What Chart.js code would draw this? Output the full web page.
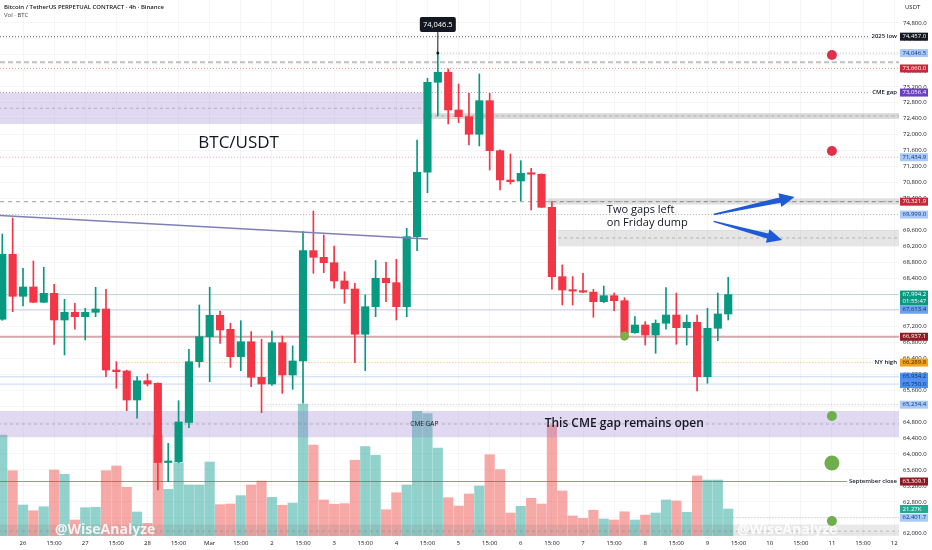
<!DOCTYPE html>
<html>
<head>
<meta charset="utf-8">
<script src="https://cdn.jsdelivr.net/npm/chart.js@4.4.1/dist/chart.umd.min.js"></script>
<style>
  html, body { margin: 0; padding: 0; background: #fff; }
  #chart { display: block; }
</style>
</head>
<body>
<canvas id="chart" width="932" height="550"></canvas>
<script>
// 4h candles, index 0 = Feb 25 19:00, index 2 = Feb 26 03:00 (first daily label)
const opens = [67375,69004,67951,68184,67801,68026,67357,67550,67440,67550,
  67633,66104,66079,65352,65836,65771,63786,63806,64790,66312,
  66939,67475,67124,66437,66813,65921,65753,66788,65979,66330,
  69094,68928,68793,68335,68134,66999,67690,68402,68292,67690,
  69445,71059,73314,73565,72620,72452,72011,72853,71600,70866,
  70840,71033,71010,70181,68442,68109,68085,68055,67816,67966,
  67841,67040,67232,66981,67275,67482,67164,67300,65936,67149,
  67508];
const highs = [69512,69913,68653,68836,68678,68252,67876,67776,67650,68177,
  68127,66312,66100,65936,66004,65780,64267,65335,66623,67733,
  68177,67583,67275,67340,67064,66874,67082,66956,66706,69570,
  70089,69487,69212,68568,68277,67984,68850,68803,68878,69655,
  71868,73414,74046.5,73647,73271,73038,73522,73038,71620,71517,
  71349,71159,71020,70322,68735,68442,68527,68127,68209,68030,
  67916,67440,67315,67357,68167,68030,67482,67482,67650,68030,
  68427];
const lows = [67350,67565,67708,67790,67790,66748,66480,67124,66856,67440,
  65936,65646,65084,64894,65703,63097,63305,63780,64658,66172,
  65811,66773,66172,66087,65686,65034,65720,65520,65620,65270,
  68527,68543,68152,67776,66287,66087,67440,67816,67357,67440,
  69094,70547,72469,72269,72302,71743,71718,71116,70615,70765,
  70347,70114,70170,68127,67733,67733,68040,67425,67790,67590,
  66856,67020,66731,66523,67124,66748,66731,65578,65771,66838,
  67357];
const closes = [69004,67951,68184,67801,68026,67357,67550,67440,67550,67633,
  66104,66062,65352,65836,65753,63786,63810,64801,66312,66939,
  67475,67107,66437,66813,65921,65753,66788,65979,66330,69094,
  68928,68793,68335,68134,66999,67690,68402,68292,67690,69445,
  71059,73314,73565,72620,72452,72011,72853,71600,70866,70823,
  71033,71010,70181,68442,68109,68080,68055,67816,67966,67841,
  67006,67232,66981,67275,67482,67164,67300,65936,67149,67508,
  67994.2];
// volume, thousands of BTC
const volumes = [79.6,51.5,24.4,19.9,23.1,52.0,48.6,12.6,22.3,22.6,
  51.5,55.2,38.4,18.9,10.0,79.6,36.8,57.8,40.2,40.2,
  58.3,24.7,25.2,31.8,40.2,43.3,30.5,24.2,26.0,104.0,
  71.7,28.4,25.0,25.5,59.7,70.4,63.6,20.7,34.1,40.2,
  98.3,96.4,69.3,30.2,23.6,33.1,39.4,64.1,52.3,18.1,
  23.4,29.7,25.2,87.5,35.5,15.8,13.9,20.3,13.4,12.6,
  19.1,12.6,16.5,18.1,28.4,27.6,18.7,47.3,44.1,44.1,
  21.27];

// time axis
const tickIndex = [2,5,8,11,14,17,20,23,26,29,32,35,38,41,44,47,50,53,56,59,62,65,68,71,74,77,80,83,86];
const tickLabels = ['26','15:00','27','15:00','28','15:00','Mar','15:00','2','15:00','3','15:00','4','15:00',
  '5','15:00','6','15:00','7','15:00','8','15:00','9','15:00','10','15:00','11','15:00','12'];
const priceTicks = [62000,62400,62800,63200,63600,64000,64400,64800,65200,65600,66000,66400,66800,
  67200,67600,68000,68400,68800,69200,69600,70000,70400,70800,71200,71600,72000,72400,72800,
  73200,73600,74000,74400,74800];

// price levels marked on the chart
const levelPrices = [74457.0,74046.5,73660.0,73056.4,71434.9,70321.9,69999.0,67994.2,67613.4,66937.1,
  66289.8,65934.2,65750.0,65234.4,63309.1,62401.7];
const levelNames = ['2025 low','','','CME gap','','','','','','','NY high','','','','September close',''];
const extraLine = 73815;
// zones: [top, bottom]
const zoneTop = [73056.4, 72540, 70400, 69613, 65077, 62230];
const zoneBottom = [72269, 72400, 70250, 69212, 64425, 61900];
// marker dots
const dotIndex = [80, 80, 80, 80, 80, 60];
const dotPrice = [73998, 71592, 64951, 63774, 62320, 66956];
// trend line
const trendIndex = [-0.22, 41.05];
const trendPrice = [69976, 69387];
// arrows
const arrowFromIdx = [68.6, 68.6];
const arrowFromPrice = [70000, 69830];
const arrowToIdx = [76.4, 75.2];
const arrowToPrice = [70440, 69362];
const countdown = '01:55:47';
const lastVolume = 21.27;

// ---- styles ----
const UP = '#089981', DOWN = '#f23645';
const FONT = '"Open Sans", sans-serif';
const levelStyle = [
  { box: '#131722', fg: '#ffffff', line: 'rgba(60,60,60,0.8)', dash: [1, 2], w: 1, from: -1 },
  { box: '#a9c9f7', fg: '#0d3880', line: 'rgba(130,130,130,0.5)', dash: [1, 2], w: 1, from: 42 },
  { box: '#c62839', fg: '#ffffff', line: 'rgba(226,110,120,0.7)', dash: [1, 2], w: 1, from: -1 },
  { box: '#6a3fc0', fg: '#ffffff', line: 'rgba(120,120,120,0.6)', dash: [1, 2], w: 1, from: -1 },
  { box: '#a9c9f7', fg: '#0d3880', line: 'rgba(226,110,120,0.55)', dash: [1, 2], w: 1, from: -1 },
  { box: '#c62839', fg: '#ffffff', line: 'rgba(130,130,130,0.8)', dash: [4, 4], w: 1, from: -1 },
  { box: '#a9c9f7', fg: '#0d3880', line: 'rgba(140,140,140,0.55)', dash: [1, 2], w: 1, from: -1 },
  { box: '#089981', fg: '#ffffff', line: 'rgba(120,170,175,0.45)', dash: [], w: 1, from: -1 },
  { box: '#6ea0f2', fg: '#0d2f6b', line: 'rgba(160,170,230,0.55)', dash: [], w: 1, from: -1 },
  { box: '#8e1b24', fg: '#ffffff', line: 'rgba(180,110,115,0.6)', dash: [], w: 2, from: -1 },
  { box: '#f7a21b', fg: '#3a2400', line: 'rgba(244,178,74,0.9)', dash: [1, 2], w: 1, from: 11 },
  { box: '#4f8ff0', fg: '#0d2f6b', line: 'rgba(140,180,240,0.5)', dash: [], w: 1, from: -1 },
  { box: '#4f8ff0', fg: '#0d2f6b', line: 'rgba(140,180,240,0.5)', dash: [], w: 1, from: -1 },
  { box: '#a9c9f7', fg: '#0d3880', line: 'rgba(140,140,140,0.55)', dash: [1, 2], w: 1, from: 25.5 },
  { box: '#8e1b24', fg: '#ffffff', line: 'rgba(214,60,70,0.7)', dash: [], w: 1, from: -1 },
  { box: '#a9c9f7', fg: '#0d3880', line: 'rgba(140,140,140,0.55)', dash: [1, 2], w: 1, from: 70.5 }
];
const zoneStyle = [
  { fill: 'rgba(149,117,205,0.28)', from: -1, to: 40.6 },
  { fill: 'rgba(150,150,150,0.35)', from: 40.6, to: 90 },
  { fill: 'rgba(150,150,150,0.30)', from: 52.6, to: 90 },
  { fill: 'rgba(150,150,150,0.25)', from: 53.6, to: 90 },
  { fill: 'rgba(149,117,205,0.28)', from: -1, to: 90 },
  { fill: 'rgba(120,120,120,0.16)', from: -1, to: 90 }
];
const dotColor = ['#e0314b', '#e0314b', '#6fae4c', '#6fae4c', '#6fae4c', '#7caf4a'];
const dotRadius = [5, 5, 5, 7.5, 5, 4.5];

const fmt = v => v.toLocaleString('en-US', { minimumFractionDigits: 1, maximumFractionDigits: 1 });
const isUp = i => closes[i] >= opens[i];

function hline(ctx, a, y, color, dash, w, x0) {
  ctx.strokeStyle = color; ctx.lineWidth = w; ctx.setLineDash(dash);
  ctx.beginPath(); ctx.moveTo(Math.max(a.left, x0), y); ctx.lineTo(a.right, y); ctx.stroke();
  ctx.setLineDash([]);
}

function arrow(ctx, x1, y1, x2, y2, color) {
  const dx = x2 - x1, dy = y2 - y1, len = Math.hypot(dx, dy);
  const ux = dx / len, uy = dy / len, nx = -uy, ny = ux;
  const head = 15, bx = x2 - ux * head, by = y2 - uy * head;
  ctx.fillStyle = color;
  ctx.beginPath();
  ctx.moveTo(x1 + nx * 0.7, y1 + ny * 0.7);
  ctx.lineTo(bx + nx * 2.6, by + ny * 2.6);
  ctx.lineTo(bx + nx * 7, by + ny * 7);
  ctx.lineTo(x2, y2);
  ctx.lineTo(bx - nx * 7, by - ny * 7);
  ctx.lineTo(bx - nx * 2.6, by - ny * 2.6);
  ctx.lineTo(x1 - nx * 0.7, y1 - ny * 0.7);
  ctx.closePath(); ctx.fill();
}

const overlay = {
  id: 'overlay',
  beforeDatasetDraw(chart, args) {
    if (args.index !== 1) return; // after volume, before candles
    const { ctx, chartArea: a, scales: { x, y } } = chart;
    ctx.save();
    ctx.beginPath(); ctx.rect(a.left, a.top, a.right - a.left, a.bottom - a.top); ctx.clip();
    zoneTop.forEach((t, i) => {
      const s = zoneStyle[i];
      const x0 = x.getPixelForValue(s.from), x1 = x.getPixelForValue(s.to);
      const y0 = y.getPixelForValue(t), y1 = y.getPixelForValue(zoneBottom[i]);
      ctx.fillStyle = s.fill;
      ctx.fillRect(x0, y0, x1 - x0, y1 - y0);
      hline(ctx, { left: x0, right: Math.min(x1, a.right) }, (y0 + y1) / 2, 'rgba(120,120,120,0.45)', [3, 3], 1, x0);
    });
    hline(ctx, a, y.getPixelForValue(extraLine), 'rgba(150,150,150,0.6)', [5, 3], 2, a.left);
    levelPrices.forEach((p, i) => {
      const s = levelStyle[i];
      hline(ctx, a, y.getPixelForValue(p), s.line, s.dash, s.w, x.getPixelForValue(s.from));
    });
    ctx.restore();
  },
  afterDatasetsDraw(chart) {
    const { ctx, chartArea: a, scales: { x, y } } = chart;
    ctx.save();
    ctx.beginPath(); ctx.rect(a.left, a.top, a.right - a.left, a.bottom - a.top); ctx.clip();
    ctx.textBaseline = 'middle';
    ctx.fillStyle = '#131722';
    ctx.textAlign = 'left';
    ctx.font = '500 17px ' + FONT;
    ctx.fillText('BTC/USDT', x.getPixelForValue(18.9), y.getPixelForValue(71793));
    ctx.font = '11px ' + FONT;
    ctx.fillText('Two gaps left', x.getPixelForValue(58.3), y.getPixelForValue(70114));
    ctx.fillText('on Friday dump', x.getPixelForValue(58.3), y.getPixelForValue(69800));
    ctx.font = '600 12px ' + FONT;
    ctx.fillText('This CME gap remains open', x.getPixelForValue(52.3), y.getPixelForValue(64751));
    ctx.textAlign = 'center';
    ctx.font = '6.5px ' + FONT;
    ctx.fillText('CME GAP', x.getPixelForValue(40.7), y.getPixelForValue(64751));
    arrowFromIdx.forEach((v, i) => {
      arrow(ctx, x.getPixelForValue(v), y.getPixelForValue(arrowFromPrice[i]),
        x.getPixelForValue(arrowToIdx[i]), y.getPixelForValue(arrowToPrice[i]), '#1f5ad6');
    });
    // high marker
    const hx = x.getPixelForValue(42), hy = y.getPixelForValue(highs[42]);
    ctx.strokeStyle = '#131722'; ctx.lineWidth = 1;
    ctx.beginPath(); ctx.moveTo(hx, hy); ctx.lineTo(hx, hy - 21); ctx.stroke();
    ctx.fillStyle = '#131722';
    ctx.beginPath(); ctx.arc(hx, hy, 1.5, 0, Math.PI * 2); ctx.fill();
    ctx.beginPath(); ctx.roundRect(hx - 18, hy - 36, 36, 15, 2); ctx.fill();
    ctx.fillStyle = '#ffffff'; ctx.font = '7.5px ' + FONT;
    ctx.fillText(fmt(highs[42]), hx, hy - 28.5);
    // watermarks
    ctx.font = 'bold 14px ' + FONT;
    ctx.fillStyle = 'rgba(255,255,255,0.85)';
    ctx.textAlign = 'left';
    ctx.fillText('@WiseAnalyze', 55, a.bottom - 6);
    ctx.fillText('@WiseAnalyze', 737, a.bottom - 6);
    ctx.restore();
  },
  afterDraw(chart) {
    const { ctx, chartArea: a, scales: { y, y2 } } = chart;
    ctx.save();
    ctx.textBaseline = 'middle';
    const box = (py, bg, fg, lines) => {
      const h = lines.length > 1 ? 15 : 8;
      ctx.fillStyle = bg;
      ctx.fillRect(a.right + 1, py - 4, 28, h);
      ctx.fillStyle = fg; ctx.textAlign = 'left'; ctx.font = '6px ' + FONT;
      ctx.fillText(lines[0], a.right + 3.5, py);
      if (lines[1]) ctx.fillText(lines[1], a.right + 3.5, py + 7);
    };
    levelPrices.forEach((p, i) => {
      const s = levelStyle[i], py = y.getPixelForValue(p);
      box(py, s.box, s.fg, i === 7 ? [fmt(p), countdown] : [fmt(p)]);
      if (levelNames[i]) {
        ctx.font = '600 6px ' + FONT;
        const w = ctx.measureText(levelNames[i]).width;
        ctx.fillStyle = '#ffffff';
        ctx.fillRect(a.right - w - 4, py - 4, w + 4, 8);
        ctx.fillStyle = '#131722'; ctx.textAlign = 'right';
        ctx.fillText(levelNames[i], a.right - 2, py);
      }
    });
    box(y2.getPixelForValue(lastVolume), '#22ab94', '#ffffff', [lastVolume.toFixed(2) + 'K']);
    // header
    ctx.textAlign = 'left';
    ctx.fillStyle = '#131722';
    ctx.font = '600 6px ' + FONT;
    ctx.fillText('Bitcoin / TetherUS PERPETUAL CONTRACT \u00b7 4h \u00b7 Binance', 4, 7);
    ctx.font = '6px ' + FONT;
    ctx.fillStyle = '#444';
    ctx.fillText('Vol \u00b7 BTC', 4, 15);
    ctx.fillStyle = '#131722';
    ctx.fillText('USDT', 905, 7);
    ctx.restore();
  }
};

const idx = opens.map((_, i) => i);
const noPad = s => { s.paddingLeft = 0; s.paddingRight = 0; s.paddingTop = 0; s.paddingBottom = 0; };

new Chart(document.getElementById('chart'), {
  type: 'bar',
  data: {
    datasets: [
      {
        type: 'line',
        data: trendIndex.map((v, i) => ({ x: v, y: trendPrice[i] })),
        borderColor: '#7f7fba', borderWidth: 1.5, pointRadius: 0, order: 0
      },
      {
        type: 'bar',
        data: idx.map(i => ({ x: i, y: [lows[i], highs[i]] })),
        backgroundColor: idx.map(i => isUp(i) ? UP : DOWN),
        barThickness: 1, grouped: false, order: 2
      },
      {
        type: 'bar',
        data: idx.map(i => ({ x: i, y: [opens[i], closes[i]] })),
        backgroundColor: idx.map(i => isUp(i) ? UP : DOWN),
        barThickness: 7.5, minBarLength: 1.5, grouped: false, order: 1
      },
      {
        type: 'bar',
        yAxisID: 'y2',
        data: idx.map(i => ({ x: i, y: volumes[i] })),
        backgroundColor: idx.map(i => isUp(i) ? 'rgba(38,166,154,0.5)' : 'rgba(239,83,80,0.5)'),
        barThickness: 9.5, grouped: false, order: 3
      },
      {
        type: 'scatter',
        data: dotIndex.map((v, i) => ({ x: v, y: dotPrice[i] })),
        pointRadius: dotRadius, pointBackgroundColor: dotColor, pointBorderWidth: 0, order: 0
      }
    ]
  },
  options: {
    responsive: false,
    animation: false,
    layout: { padding: 0, autoPadding: false },
    plugins: { legend: { display: false }, tooltip: { enabled: false } },
    scales: {
      x: {
        type: 'linear', min: -0.22, max: 86.47, offset: false,
        afterBuildTicks: s => { s.ticks = tickIndex.map(v => ({ value: v })); },
        afterFit: s => { s.height = 14; noPad(s); },
        ticks: { callback: (v, i) => tickLabels[i], autoSkip: false, maxRotation: 0,
          font: { size: 6, family: FONT }, color: '#131722', padding: 4 },
        grid: { color: 'rgba(42,46,57,0.045)', drawTicks: false, offset: false },
        border: { display: false }
      },
      y: {
        type: 'linear', position: 'right', min: 61944, max: 75376,
        afterBuildTicks: s => { s.ticks = priceTicks.map(v => ({ value: v })); },
        afterFit: s => { s.width = 33; noPad(s); },
        ticks: { callback: v => fmt(v), font: { size: 6, family: FONT }, color: '#131722', padding: 4 },
        grid: { color: 'rgba(42,46,57,0.045)', drawTicks: false },
        border: { display: false }
      },
      y2: { display: false, min: 0, max: 422.4 }
    }
  },
  plugins: [overlay]
});
</script>
</body>
</html>
